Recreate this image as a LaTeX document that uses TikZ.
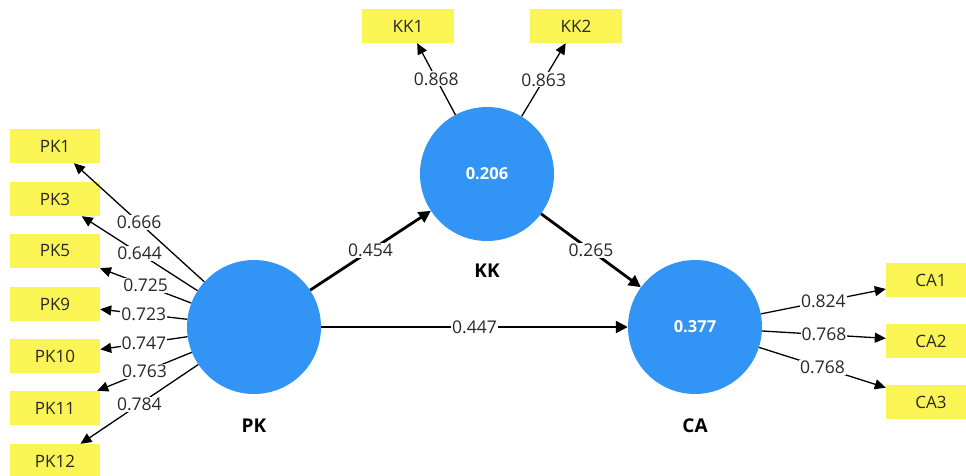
\documentclass[tikz,border=0pt]{standalone}
\usepackage{fontspec}
\setmainfont{Open Sans}
\usetikzlibrary{arrows.meta}
\definecolor{plsblue}{RGB}{50,148,245}
\definecolor{plsyellow}{RGB}{250,244,85}
\definecolor{txtgray}{RGB}{40,40,40}
\tikzset{
  lv/.style={circle, fill=plsblue, draw=none, minimum size=134pt, inner sep=0pt,
    text=white, font=\fontsize{16.5}{19}\selectfont\bfseries},
  mv/.style={rectangle, fill=plsyellow, draw=none, minimum width=90pt, minimum height=34pt,
    inner sep=0pt, text=txtgray, font=\fontsize{17}{20}\selectfont},
  lvname/.style={font=\fontsize{19}{22}\selectfont\bfseries, text=black},
  ind/.style={draw=black, line width=1.3pt, -{Triangle[length=11pt,width=10pt]}},
  path/.style={draw=black, line width=2.8pt, -{Triangle[length=12pt,width=12pt]}},
  lbl/.style={pos=0.5, fill=white, inner sep=1pt, text=txtgray,
    font=\fontsize{17.5}{20}\selectfont}
}
\begin{document}
\begin{tikzpicture}[x=1pt,y=-1pt]
\clip (0,0) rectangle (966,475);
\fill[white] (0,0) rectangle (966,475);

% latent variables
\node[lv] (PK) at (254,327) {};
\node[lv] (KK) at (487,174) {0.206};
\node[lv] (CA) at (695,327) {0.377};
\node[lvname] (PKn) at (254,426) {PK};
\node[lvname] (KKn) at (487,271) {KK};
\node[lvname] (CAn) at (695,426) {CA};

% indicators
\node[mv] (PK1) at (55,146) {PK1};
\node[mv] (PK3) at (55,199) {PK3};
\node[mv] (PK5) at (55,251) {PK5};
\node[mv] (PK9) at (55,304) {PK9};
\node[mv] (PK10) at (55,356) {PK10};
\node[mv] (PK11) at (55,408) {PK11};
\node[mv] (PK12) at (55,461) {PK12};
\node[mv, minimum width=92pt] (KK1) at (408,26) {KK1};
\node[mv, minimum width=92pt] (KK2) at (576,26) {KK2};
\node[mv] (CA1) at (931,280) {CA1};
\node[mv] (CA2) at (931,341) {CA2};
\node[mv] (CA3) at (931,402) {CA3};

% outer loadings
\draw[ind] (PK) -- (PK1) node[lbl] {0.666};
\draw[ind] (PK) -- (PK3) node[lbl] {0.644};
\draw[ind] (PK) -- (PK5) node[lbl] {0.725};
\draw[ind] (PK) -- (PK9) node[lbl] {0.723};
\draw[ind] (PK) -- (PK10) node[lbl] {0.747};
\draw[ind] (PK) -- (PK11) node[lbl] {0.763};
\draw[ind] (PK) -- (PK12) node[lbl] {0.784};
\draw[ind] (KK) -- (KK1) node[lbl] {0.868};
\draw[ind] (KK) -- (KK2) node[lbl] {0.863};
\draw[ind] (CA) -- (CA1) node[lbl] {0.824};
\draw[ind] (CA) -- (CA2) node[lbl] {0.768};
\draw[ind] (CA) -- (CA3) node[lbl] {0.768};

% structural paths
\draw[path] (PK) -- (KK) node[lbl] {0.454};
\draw[path] (KK) -- (CA) node[lbl] {0.265};
\draw[path, line width=2.4pt] (PK) -- (CA) node[lbl] {0.447};
\end{tikzpicture}
\end{document}
